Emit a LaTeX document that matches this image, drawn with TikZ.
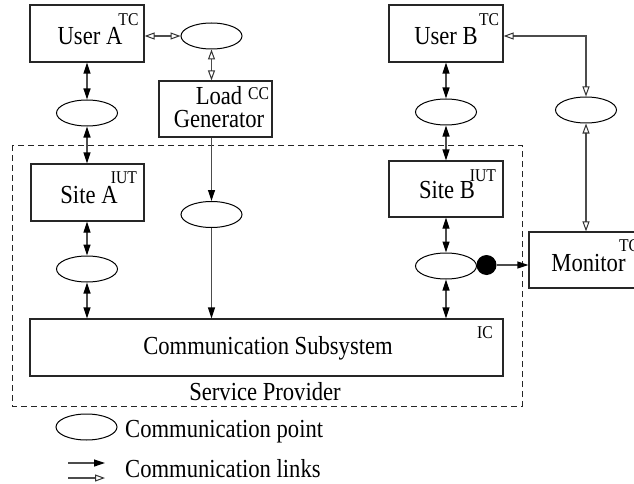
\documentclass[tikz,border=0pt]{standalone}
\usepackage{fontspec}
\setmainfont{Liberation Serif}
\usetikzlibrary{arrows.meta,shapes.geometric}

% slightly condensed lettering
\newcommand\narrowtxt[1]{\scalebox{0.87}[1]{#1}}

\begin{document}
\begin{tikzpicture}[x=1pt,y=-1pt,
  box/.style={draw=black!85,line width=1.2pt,minimum height=57pt,inner sep=0pt},
  cpoint/.style={draw=black,ellipse,line width=1pt,minimum width=61pt,minimum height=26pt,inner sep=0pt},
  frame/.style={draw=black!85,line width=1pt,dash pattern=on 6pt off 4pt},
  link/.style={draw=black!70,line width=1.2pt},
  solidtip/.tip={Triangle[length=11pt,width=7pt,color=black]},
  opentip/.tip={Triangle[open,length=10pt,width=7pt,color=black!80,line width=1pt]},
  both/.style={link,solidtip-solidtip},
  one/.style={link,-solidtip},
  openboth/.style={link,opentip-opentip},
  txt/.style={inner sep=0pt,anchor=base,font=\fontsize{26}{30}\selectfont},
  sup/.style={inner sep=0pt,anchor=base,font=\fontsize{18}{21}\selectfont},
]
\useasboundingbox (0,0) rectangle (634,484);
\fill[white] (0,0) rectangle (634,484);
\clip (0,0) rectangle (634,484);

% service provider frame
\draw[frame] (12,145) rectangle (522,406);

% boxes
\node[box,minimum width=114pt] (userA) at (87,33.5) {};
\node[box,minimum width=113pt,minimum height=56pt] (loadgen) at (215.5,109) {};
\node[box,minimum width=113pt] (siteA) at (87.5,192.5) {};
\node[box,minimum width=114pt] (userB) at (446,33.5) {};
\node[box,minimum width=114pt,minimum height=56pt] (siteB) at (446,189) {};
\node[box,minimum width=473pt] (comm) at (266.5,347.5) {};
\node[box,minimum width=131pt,minimum height=56pt] (monitor) at (594.5,260) {};

% box texts
\node[txt] (tUA) at (90,45) {\narrowtxt{User A}};
\node[sup] (sUA) at (128.5,26) {\narrowtxt{TC}};
\node[inner sep=0pt,align=center,font=\fontsize{26}{23}\selectfont,anchor=base] (tLG) at (219,128)
  {\narrowtxt{Load}\hspace{13pt}\\\narrowtxt{Generator}};
\node[sup] (sLG) at (258.5,100) {\narrowtxt{CC}};
\node[txt] (tSA) at (89,203) {\narrowtxt{Site A}};
\node[sup] (sSA) at (124,183) {\narrowtxt{IUT}};
\node[txt] (tUB) at (446,45) {\narrowtxt{User B}};
\node[sup] (sUB) at (489,26) {\narrowtxt{TC}};
\node[txt] (tSB) at (447,198) {\narrowtxt{Site B}};
\node[sup] (sSB) at (483,181) {\narrowtxt{IUT}};
\node[txt] (tMon) at (588.5,271) {\narrowtxt{Monitor}};
\node[sup] (sMon) at (629,251) {\narrowtxt{TC}};
\node[txt] (tComm) at (268,354) {\narrowtxt{Communication Subsystem}};
\node[sup] (sComm) at (485,338) {\narrowtxt{IC}};
\node[txt] (tSP) at (265,400) {\narrowtxt{Service Provider}};

% communication points
\node[cpoint] (eTop) at (211.5,36) {};
\node[cpoint] (eA1) at (87,113) {};
\node[cpoint] (eMid) at (211.5,214.5) {};
\node[cpoint] (eA2) at (87,269) {};
\node[cpoint] (eB1) at (446,112) {};
\node[cpoint] (eB2) at (446,266) {};
\node[cpoint] (eR) at (586,110) {};
\node[circle,fill=black,minimum size=20pt,inner sep=0pt] (dot) at (486.5,265) {};

% links
\draw[openboth] (userA.east |- eTop) -- (eTop.west);
\draw[openboth] (eTop.south) -- (eTop.south |- loadgen.north);
\draw[both] (userA.south -| eA1) -- (eA1.north);
\draw[both] (eA1.south) -- (eA1.south |- siteA.north);
\draw[both] (siteA.south -| eA2) -- (eA2.north);
\draw[both] (eA2.south) -- (eA2.south |- comm.north);
\draw[one] (loadgen.south -| eMid) -- (eMid.north);
\draw[one] (eMid.south) -- (eMid.south |- comm.north);
\draw[both] (userB.south) -- (eB1.north);
\draw[both] (eB1.south) -- (siteB.north);
\draw[both] (siteB.south) -- (eB2.north);
\draw[both] (eB2.south) -- (eB2.south |- comm.north);
\draw[one] (dot.east) -- (dot.east -| monitor.west);
\draw[openboth] (eR.north) |- ([yshift=-2.5pt]userB.east);
\draw[openboth] (eR.south) -- (eR.south |- monitor.north);

% legend
\node[cpoint] (eKey) at (86.5,427) {};
\node[txt,anchor=base west] (tKeyP) at (125,437) {\narrowtxt{Communication point}};
\coordinate (k1a) at (68,463);
\coordinate (k1b) at (105,463);
\coordinate (k2a) at (68,478);
\coordinate (k2b) at (105,478);
\draw[one] (k1a) -- (k1b);
\draw[link,-opentip] (k2a) -- (k2b);
\node[txt,anchor=base west] (tKeyL) at (125,477) {\narrowtxt{Communication links}};
\end{tikzpicture}
\end{document}
